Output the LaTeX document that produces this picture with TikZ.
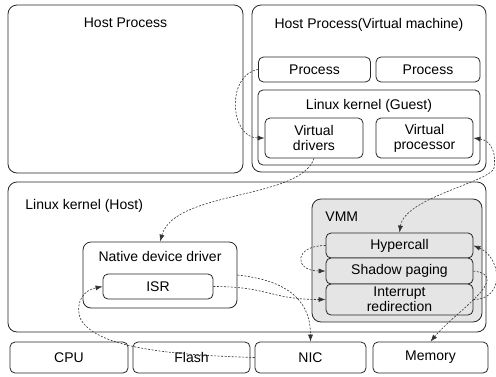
\documentclass[tikz,border=0pt]{standalone}
\usepackage{fontspec}
\setmainfont{Liberation Sans}
\usetikzlibrary{arrows.meta}

\begin{document}
\fontsize{14}{15}\selectfont
\begin{tikzpicture}[x=1pt,y=-1pt,
    >={Latex[length=7pt,width=5pt]},
    box/.style={draw=black!85,line width=0.8pt,rounded corners=5pt,inner sep=1pt,align=center},
    bigbox/.style={box,rounded corners=9pt},
    ttl/.style={anchor=north,yshift=#1},
    flow/.style={draw=black!80,line width=0.6pt,dash pattern=on 2pt off 1.5pt}]
  \useasboundingbox (0,0) rectangle (496,376);
  \tikzstyle{vmm part}=[box,fill=black!10,minimum width=147pt]

  \node [bigbox,minimum width=235pt,minimum height=168pt,
    label={[ttl=-8pt]north:Host Process}] (host) at (125.5,89) {};
  \node [bigbox,minimum width=234pt,minimum height=167pt,
    label={[ttl=-9pt]north:Host Process(Virtual machine)}] (vm) at (369,88.5) {};
  \node [box,minimum width=112pt,minimum height=25pt] (proc1) at (314.5,69.5) {Process};
  \node [box,minimum width=104pt,minimum height=25pt] (proc2) at (428,69.5) {Process};
  \node [box,minimum width=222pt,minimum height=75pt,
    label={[ttl=-5pt]north:Linux kernel (Guest)}] (guest) at (369,127.5) {};
  \node [box,minimum width=98pt,minimum height=40pt] (vdrv) at (314,138) {Virtual\\drivers};
  \node [box,minimum width=97pt,minimum height=40pt] (vproc) at (424.5,138) {Virtual\\processor};

  \node [bigbox,minimum width=478pt,minimum height=150pt,
    label={[anchor=north west,xshift=13pt,yshift=-13pt]north west:Linux kernel (Host)}] (hostk) at (247,257) {};
  \node [box,rounded corners=8pt,minimum width=154pt,minimum height=66pt,
    label={[ttl=-5pt]north:Native device driver}] (ndd) at (160,275) {};
  \node [box,minimum width=110pt,minimum height=25pt] (isr) at (158,286.5) {ISR};
  \node [bigbox,fill=black!10,minimum width=170pt,minimum height=123pt,
    label={[anchor=north west,xshift=9pt,yshift=-8pt]north west:VMM}] (vmm) at (397,260.5) {};
  \node [vmm part,minimum height=25pt] (hyper) at (399.5,245.5) {Hypercall};
  \node [vmm part,minimum height=26pt] (shadow) at (399.5,271) {Shadow paging};
  \node [vmm part,minimum height=31pt] (intr) at (399.5,299.5) {Interrupt\\redirection};

  \node [box,minimum width=118pt,minimum height=31pt] (cpu) at (69,357.5) {CPU};
  \node [box,minimum width=117pt,minimum height=31pt] (flash) at (191.5,357.5) {Flash};
  \node [box,minimum width=111pt,minimum height=31pt] (nic) at (310.5,357.5) {NIC};
  \node [box,minimum width=115pt,minimum height=31pt] (mem) at (430.5,357.5) {Memory};

  \draw [flow,->] (proc1.west) .. controls +(-32,5) and +(-35,0) .. (vdrv.west);
  \draw [flow,->] (vdrv.south) .. controls (300,200) and (175,190) .. (ndd.north);
  \draw [flow,<->] (vproc.east) .. controls +(20,3) and +(2,-12) .. (494,168)
    .. controls +(-4,14) and +(5,-35) .. (hyper.north);
  \draw [flow,->] (hyper.west) .. controls +(-32,0) and +(-32,0) .. (shadow.west);
  \draw [flow,->] (ndd.east) .. controls +(45,5) and +(0,-45) .. (nic.north);
  \draw [flow,->] (isr.east) .. controls +(55,0) and +(-55,0) .. (intr.west);
  \draw [flow,->] (nic.west) .. controls (170,355) and (95,348) .. (80,318)
    .. controls (75,300) and (85,290) .. (isr.west);
  \draw [flow,->] (intr.east) .. controls +(32,0) and +(28,12) .. (hyper.east);
  \draw [flow,->] (shadow.east) .. controls +(40,5) and +(25,-30) .. (mem.north);
\end{tikzpicture}
\end{document}
